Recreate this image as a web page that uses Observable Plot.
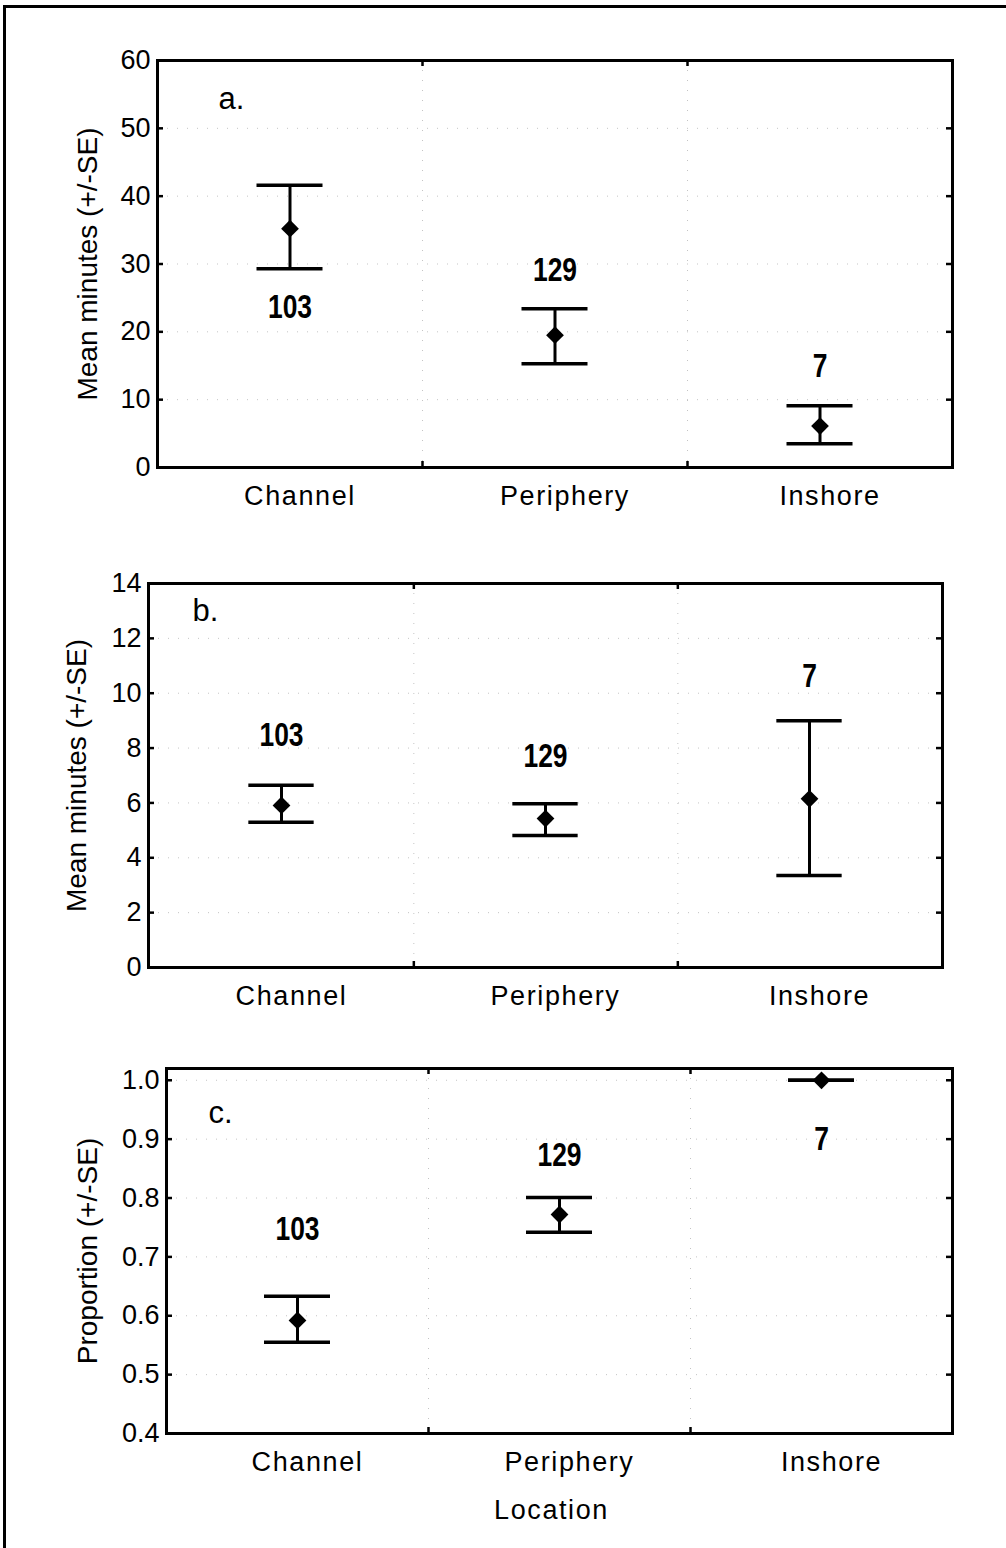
<!DOCTYPE html>
<html>
<head>
<meta charset="utf-8">
<script src="https://cdn.jsdelivr.net/npm/d3@7"></script>
<script src="https://cdn.jsdelivr.net/npm/@observablehq/plot@0.6"></script>
<style>
  html, body { margin: 0; padding: 0; background: #fff; }
  #fig { position: relative; width: 1006px; height: 1548px; overflow: hidden; background: #fff; }
  #border { position: absolute; left: 3px; top: 5px; width: 1020px; height: 1600px;
            border-left: 3px solid #000; border-top: 3px solid #000; }
  .panel { position: absolute; left: 0; }
  .panel svg g[aria-label="x-axis tick label"] text { letter-spacing: 1.6px; }
</style>
</head>
<body>
<div id="fig"><div id="border"></div></div>
<script>
// Locations and sample sizes (n) shared by all three panels
const categories = ["Channel", "Periphery", "Inshore"];
const sampleSizes = [103, 129, 7];

// a. mean minutes with ±SE
const aMean  = [35.2, 19.5, 6.1];
const aLower = [29.3, 15.3, 3.5];
const aUpper = [41.6, 23.4, 9.1];
const aLabelAt = [22.0, 27.5, 13.3];   // y value where each n label sits

// b. mean minutes with ±SE
const bMean  = [5.91, 5.43, 6.15];
const bLower = [5.30, 4.81, 3.35];
const bUpper = [6.64, 5.97, 9.00];
const bLabelAt = [8.09, 7.30, 10.22];

// c. proportion with ±SE
const cMean  = [0.592, 0.772, 1.0];
const cLower = [0.555, 0.742, 1.0];
const cUpper = [0.633, 0.801, 1.0];
const cLabelAt = [0.728, 0.855, 0.881];

// tick values
const aTicks = [0, 10, 20, 30, 40, 50, 60];
const bTicks = [0, 2, 4, 6, 8, 10, 12, 14];
const cTicks = [0.4, 0.5, 0.6, 0.7, 0.8, 0.9, 1.0];

const W = 1006;
const sans = '"Liberation Sans", Arial, Helvetica, sans-serif';

// squeeze the bold sample-size numbers horizontally (condensed look)
function condense(svg, factor) {
  svg.querySelectorAll('g[font-weight="bold"] text').forEach(t => {
    const tr = t.getAttribute("transform");
    if (tr) {
      t.setAttribute("transform", tr + ` scale(${factor},1)`);
    } else {
      const x = +t.getAttribute("x") || 0, y = +t.getAttribute("y") || 0;
      t.removeAttribute("x");
      t.removeAttribute("y");
      t.setAttribute("transform", `translate(${x},${y}) scale(${factor},1)`);
    }
  });
}

function drawPanel(cfg) {
  const {letter, yTitle, mean, lower, upper, labelAt, domain, ticks, innerTicks, fmt,
         top, height, mt, mr, mb, ml, titleDx, letterDx, letterDy, extra = []} = cfg;
  const fw = W - ml - mr, fh = height - mt - mb, bw = fw / 3;
  const capInset = (bw - 66) / 2;
  const rows = categories.map((c, i) => ({
    cat: c, mean: mean[i], lo: lower[i], hi: upper[i], n: sampleSizes[i], at: labelAt[i]
  }));
  const dotted = {stroke: "#b5b5b5", strokeWidth: 1, strokeDasharray: "1 9", strokeOpacity: 0.8};
  const bounds = categories.slice(0, 2);

  const chart = Plot.plot({
    width: W, height,
    marginTop: mt, marginRight: mr, marginBottom: mb, marginLeft: ml,
    style: {fontFamily: sans, fontSize: "27px", color: "#000", background: "transparent", overflow: "visible"},
    x: {type: "band", domain: categories, padding: 0, label: null},
    y: {domain, label: null},
    marks: [
      // faint dotted grid at value ticks and between locations
      Plot.gridY(innerTicks, dotted),
      Plot.ruleX(bounds, {dx: bw / 2, ...dotted}),
      // small inward tick marks on all four sides
      Plot.tickY(innerTicks, {insetRight: fw - 6, strokeWidth: 2.5}),
      Plot.tickY(innerTicks, {insetLeft: fw - 6, strokeWidth: 2.5}),
      Plot.ruleX(bounds, {dx: bw / 2, insetBottom: fh - 6, strokeWidth: 2.5}),
      Plot.ruleX(bounds, {dx: bw / 2, insetTop: fh - 6, strokeWidth: 2.5}),
      Plot.axisY(ticks, {anchor: "left", tickSize: 0, tickPadding: 7, tickFormat: fmt, label: null}),
      Plot.axisX({anchor: "bottom", tickSize: 0, tickPadding: 18, label: null, dx: 10}),
      Plot.frame({strokeWidth: 3}),
      // error bars: whisker, caps, mean diamond
      Plot.ruleX(rows, {x: "cat", y1: "lo", y2: "hi", strokeWidth: 3}),
      Plot.tickY(rows, {x: "cat", y: "lo", insetLeft: capInset, insetRight: capInset, strokeWidth: 3.5}),
      Plot.tickY(rows, {x: "cat", y: "hi", insetLeft: capInset, insetRight: capInset, strokeWidth: 3.5}),
      Plot.dot(rows, {x: "cat", y: "mean", symbol: "diamond2", r: 8, fill: "#000", stroke: null}),
      // sample sizes
      Plot.text(rows, {x: "cat", y: "at", text: d => String(d.n), lineAnchor: "bottom",
                       fontFamily: sans, fontWeight: "bold", fontSize: 33}),
      // panel letter and y-axis title
      Plot.text([letter], {frameAnchor: "top-left", dx: letterDx, dy: letterDy, textAnchor: "start",
                           lineAnchor: "bottom", fontSize: 31}),
      Plot.text([yTitle], {frameAnchor: "left", dx: titleDx, rotate: -90, textAnchor: "middle", fontSize: 28}),
      ...extra
    ]
  });
  condense(chart, 0.8);
  chart.querySelectorAll("text").forEach(t => {
    if (t.textContent === "Location") t.style.letterSpacing = "1.6px";
  });
  const holder = document.createElement("div");
  holder.className = "panel";
  holder.style.top = top + "px";
  holder.appendChild(chart);
  document.getElementById("fig").appendChild(holder);
}

drawPanel({
  letter: "a.", yTitle: "Mean minutes (+/-SE)",
  mean: aMean, lower: aLower, upper: aUpper, labelAt: aLabelAt,
  domain: [0, 60], ticks: aTicks, innerTicks: aTicks.slice(1, -1), fmt: d3.format("d"),
  top: 0, height: 540, mt: 60, mr: 54, mb: 73, ml: 157,
  titleDx: -69, letterDx: 61, letterDy: 48
});

drawPanel({
  letter: "b.", yTitle: "Mean minutes (+/-SE)",
  mean: bMean, lower: bLower, upper: bUpper, labelAt: bLabelAt,
  domain: [0, 14], ticks: bTicks, innerTicks: bTicks.slice(1, -1), fmt: d3.format("d"),
  top: 540, height: 480, mt: 43, mr: 64, mb: 53, ml: 148,
  titleDx: -71, letterDx: 44, letterDy: 37
});

drawPanel({
  letter: "c.", yTitle: "Proportion (+/-SE)",
  mean: cMean, lower: cLower, upper: cUpper, labelAt: cLabelAt,
  domain: [0.4, 1.02], ticks: cTicks, innerTicks: cTicks.slice(1), fmt: d3.format(".1f"),
  top: 1020, height: 528, mt: 48, mr: 54, mb: 115, ml: 166,
  titleDx: -78, letterDx: 42, letterDy: 54,
  extra: [
    Plot.text(["Location"], {frameAnchor: "bottom", dx: -8, dy: 85, lineAnchor: "bottom", fontSize: 27})
  ]
});
</script>
</body>
</html>
